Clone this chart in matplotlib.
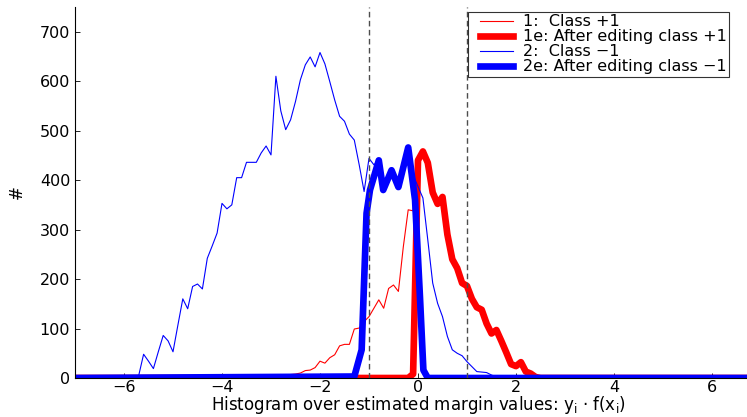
import numpy as np
import matplotlib.pyplot as plt
from matplotlib.legend_handler import HandlerLine2D

plt.rcParams['font.family'] = ['DejaVu Sans']

bin_width = 0.1
x_range = (-7.0, 7.0)

# class +1 before editing (bin centres start at pos_start)
pos_start = -3.1
pos_counts = [0, 5, 6, 7, 6, 7, 8, 10, 15, 16, 21, 34, 30, 41, 47, 65, 68, 68,
              99, 101, 114, 124, 141, 158, 141, 181, 188, 175, 265, 340, 338,
              441, 458, 435, 375, 352, 366, 290, 240, 222, 192, 186, 160, 143,
              138, 110, 90, 97, 75, 52, 28, 24, 32, 13, 9, 2, 0]

# class +1 after editing
pos_edit_start = -0.2
pos_edit_counts = [0, 8, 440, 458, 435, 375, 352, 366, 290, 240, 222, 192, 186,
                   160, 143, 138, 110, 90, 97, 75, 52, 28, 24, 32, 13, 9, 2, 0]

# class -1 before editing
neg_start = -5.8
neg_counts = [0, 5, 48, 34, 19, 53, 86, 75, 53, 107,
              160, 140, 185, 190, 180, 242, 267, 293, 353, 342,
              350, 405, 405, 436, 436, 436, 455, 469, 451, 610,
              540, 502, 522, 559, 603, 633, 649, 629, 658, 635,
              599, 562, 529, 519, 493, 481, 431, 377, 444, 431,
              440, 385, 410, 415, 390, 430, 460, 410, 387, 364,
              279, 192, 151, 124, 84, 57, 50, 45, 33, 23,
              13, 12, 11, 6, 2, 0]

# class -1 after editing
neg_edit_x = [-1.3, -1.15, -1.05, -0.98, -0.8, -0.71, -0.54, -0.4, -0.2,
              -0.06, 0.04, 0.11, 0.2]
neg_edit_counts = [3, 57, 333, 380, 440, 380, 420, 386, 466, 360, 164, 16, 0]

labels = ['1:  Class +1', '1e: After editing class +1',
          '2:  Class \u22121', '2e: After editing class \u22121']


def binned(start, counts):
    x = start + bin_width * np.arange(len(counts))
    return with_tails(x, counts)


def with_tails(x, y):
    # flat zero line out to both ends of the axis
    x = np.concatenate([[x_range[0]], x, [x_range[1]]])
    y = np.concatenate([[0], y, [0]])
    return x, y


fig = plt.figure(figsize=(7.47, 4.17), dpi=100)
ax = fig.add_axes([75 / 747, 39 / 417, 686 / 747, 371 / 417])

thin, thick = 0.8, 4.8
ax.plot(*binned(pos_start, pos_counts), color='#ff0000', lw=thin, label=labels[0])
ax.plot(*binned(pos_edit_start, pos_edit_counts), color='#ff0000', lw=thick,
        label=labels[1])
ax.plot(*binned(neg_start, neg_counts), color='#0000ff', lw=thin, label=labels[2])
ax.plot(*with_tails(neg_edit_x, neg_edit_counts), color='#0000ff', lw=thick,
        label=labels[3])

for xv in (-1, 1):
    ax.axvline(xv, color='#4d4d4d', lw=1.0, ls=(0, (4, 2.5)), zorder=3)

ax.set_xlim(*x_range)
ax.set_ylim(0, 750)
ax.set_xticks(np.arange(-6, 7, 2))
ax.set_yticks(np.arange(0, 701, 100))
ax.tick_params(direction='in', length=3.5, width=0.6, labelsize=11.5)
ax.tick_params(axis='x', pad=1.5)
ax.tick_params(axis='y', pad=3.5)
for side in ('top', 'right'):
    ax.spines[side].set_visible(False)
for side in ('left', 'bottom'):
    ax.spines[side].set_linewidth(0.8)

ax.set_xlabel('Histogram over estimated margin values: y$_\\mathregular{i}$ \u00b7 f(x$_\\mathregular{i}$)',
              fontsize=12, labelpad=-0.5)
ax.set_ylabel('#', fontsize=12, labelpad=10)

leg = ax.legend(loc='upper left', bbox_to_anchor=(468 / 747, 1 - 12 / 417),
                bbox_transform=fig.transFigure, borderaxespad=0, fontsize=11.5,
                frameon=True, fancybox=False, handlelength=2.67,
                handletextpad=0.63, labelspacing=0.0, borderpad=0.15,
                handler_map={plt.Line2D: HandlerLine2D(xpad=0.6)})
leg.get_frame().set_edgecolor('black')
leg.get_frame().set_linewidth(0.8)

fig.savefig('out.png', dpi=100)
